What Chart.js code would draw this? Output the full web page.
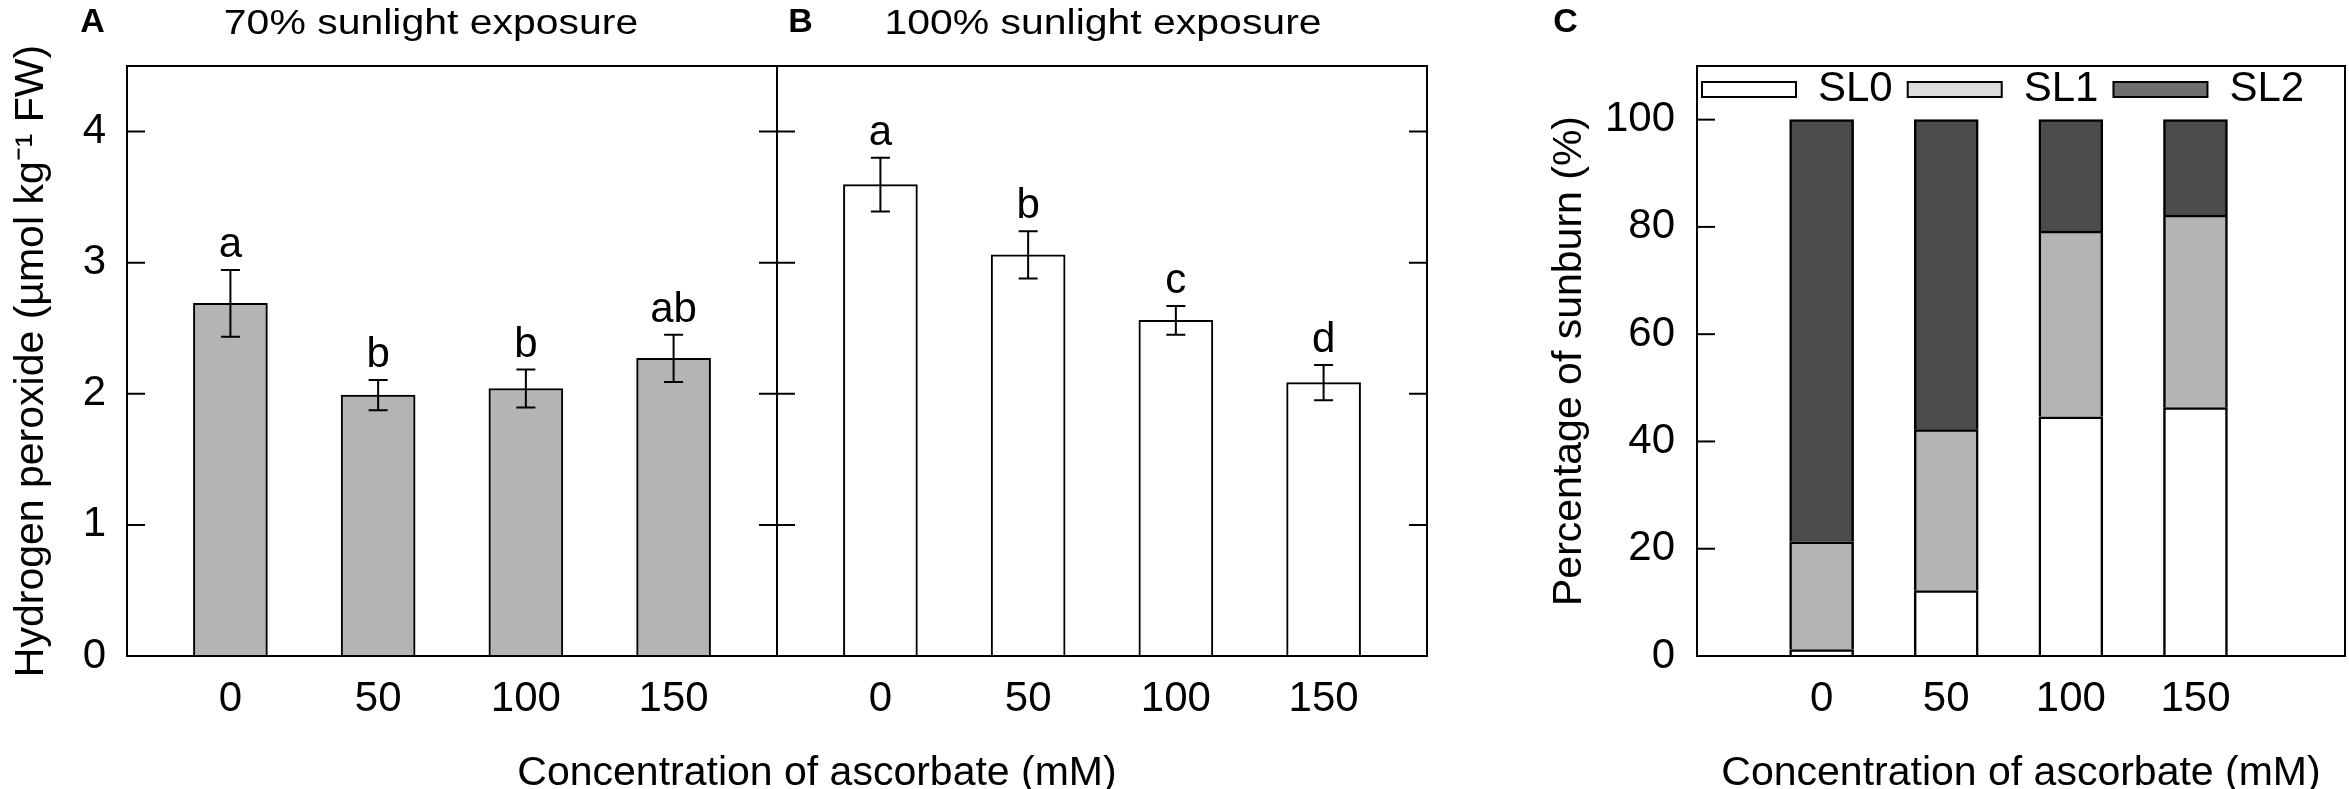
<!DOCTYPE html>
<html>
<head>
<meta charset="utf-8">
<script src="https://cdn.jsdelivr.net/npm/chart.js@4.4.1/dist/chart.umd.min.js"></script>
<style>
  html, body { margin: 0; padding: 0; background: #fff; }
  #page { position: relative; width: 2349px; height: 789px; overflow: hidden;
          font-family: "Liberation Sans", Arial, sans-serif; color: #000; }
  canvas { position: absolute; left: 0; top: 0; }
  .lbl { position: absolute; white-space: nowrap; line-height: 1; transform: translate(-50%, -50%); }
  .panel { font-weight: bold; font-size: 34px; }
  .head { font-size: 35px; transform: translate(-50%, -50%) scaleX(1.17); }
  .xt { font-size: 41px; }
</style>
</head>
<body>
<div id="page">
  <canvas id="chartA" width="2349" height="789"></canvas>
  <canvas id="chartB" width="2349" height="789"></canvas>
  <canvas id="chartC" width="2349" height="789"></canvas>

  <div class="lbl panel" style="left:92.5px;top:20px">A</div>
  <div class="lbl panel" style="left:800.5px;top:20px">B</div>
  <div class="lbl panel" style="left:1565.5px;top:20px">C</div>
  <div class="lbl head" style="left:431px;top:21px">70% sunlight exposure</div>
  <div class="lbl head" style="left:1103px;top:21px">100% sunlight exposure</div>
  <div class="lbl xt" style="left:817px;top:771px">Concentration of ascorbate (mM)</div>
  <div class="lbl xt" style="left:2021px;top:771px">Concentration of ascorbate (mM)</div>
</div>
<script>
// ascorbate concentrations (mM)
const categories = ['0', '50', '100', '150'];

// H2O2 content, 70% sunlight (panel A)
const h2o2Shade = [2.69, 1.99, 2.04, 2.27];
const h2o2ShadeErr = [0.255, 0.115, 0.145, 0.18];
const lettersShade = ['a', 'b', 'b', 'ab'];

// H2O2 content, 100% sunlight (panel B)
const h2o2Full = [3.595, 3.06, 2.56, 2.085];
const h2o2FullErr = [0.205, 0.18, 0.11, 0.135];
const lettersFull = ['a', 'b', 'c', 'd'];

// sunburn levels, % of fruit (panel C)
const sl0 = [1.2, 12.2, 44.6, 46.3];
const sl1 = [20.1, 30.0, 34.6, 35.9];
const sl2 = [78.7, 57.8, 20.8, 17.8];

const yTicksH2O2 = [0, 1, 2, 3, 4];
const yTicksPct = [0, 20, 40, 60, 80, 100];

const FONT = '"Liberation Sans", Arial, sans-serif';
Chart.defaults.font.family = FONT;
Chart.defaults.color = '#000';

const PAGE_W = 2349, PAGE_H = 789;
const AREA_TOP = 66, AREA_BOTTOM = 656;

function points(vals) {
    return vals.map((v, i) => ({ x: i, y: v }));
}

function xScale(min, max, stacked) {
    return {
        type: 'linear', min: min, max: max, offset: false, stacked: stacked,
        grid: { display: false, drawTicks: false },
        border: { display: false },
        ticks: {
            font: { size: 42 }, padding: 18, maxRotation: 0, autoSkip: false,
            callback: v => categories[v] ?? ''
        },
        afterBuildTicks: s => { s.ticks = categories.map((c, i) => ({ value: i })); },
        afterFit: s => { s.height = PAGE_H - AREA_BOTTOM; }
    };
}

function yScale(max, tickVals, width, opts) {
    return {
        min: 0, max: max, stacked: opts.stacked || false,
        grid: { display: false, drawTicks: false },
        border: { display: false },
        ticks: { display: opts.labels, font: { size: 42 }, padding: opts.pad || 0 },
        title: {
            display: !!opts.title, text: opts.title || '',
            font: { size: 41 }, color: '#000', padding: { top: opts.titlePad || 0, bottom: 0 }
        },
        afterBuildTicks: s => { s.ticks = tickVals.map(v => ({ value: v })); },
        afterFit: s => { s.width = width; }
    };
}

// frame, inward tick marks, error bars, letters and legend
function decor(cfg) {
    return {
        id: 'decor',
        afterDatasetsDraw(chart) {
            const { ctx, chartArea: a, scales: { x, y } } = chart;
            ctx.save();
            ctx.strokeStyle = '#000';
            ctx.fillStyle = '#000';
            ctx.lineWidth = 2;

            if (cfg.values) {
                ctx.font = '42px ' + FONT;
                ctx.textAlign = 'center';
                ctx.textBaseline = 'alphabetic';
                cfg.values.forEach((v, i) => {
                    const px = x.getPixelForValue(i);
                    const top = y.getPixelForValue(v + cfg.errors[i]);
                    const bot = y.getPixelForValue(v - cfg.errors[i]);
                    ctx.beginPath();
                    ctx.moveTo(px, top); ctx.lineTo(px, bot);
                    ctx.moveTo(px - 9.5, top); ctx.lineTo(px + 9.5, top);
                    ctx.moveTo(px - 9.5, bot); ctx.lineTo(px + 9.5, bot);
                    ctx.stroke();
                    ctx.fillText(cfg.letters[i], px, top - 13);
                });
            }

            cfg.ticks.forEach(t => {
                const py = y.getPixelForValue(t);
                ctx.beginPath();
                if (cfg.leftTicks) { ctx.moveTo(a.left, py); ctx.lineTo(a.left + 18, py); }
                if (cfg.rightTicks) { ctx.moveTo(a.right, py); ctx.lineTo(a.right - 18, py); }
                ctx.stroke();
            });

            ctx.strokeRect(a.left, a.top, a.right - a.left, a.bottom - a.top);

            if (cfg.legendFills) {
                let lx = a.left + 5;
                const by = a.top + 16;
                ctx.font = '42px ' + FONT;
                ctx.textAlign = 'left';
                ctx.textBaseline = 'middle';
                chart.data.datasets.forEach((ds, i) => {
                    ctx.fillStyle = cfg.legendFills[i];
                    ctx.fillRect(lx, by, 94, 15);
                    ctx.strokeRect(lx, by, 94, 15);
                    ctx.fillStyle = '#000';
                    ctx.fillText(ds.label, lx + 116, by + 7.5);
                    lx += 116 + ctx.measureText(ds.label).width + 15;
                });
            }
            ctx.restore();
        }
    };
}

const baseOpts = {
    responsive: false,
    animation: false,
    events: [],
    plugins: { legend: { display: false }, tooltip: { enabled: false } }
};

new Chart(document.getElementById('chartA'), {
    type: 'bar',
    data: {
        datasets: [{
            label: '70% sunlight exposure',
            data: points(h2o2Shade),
            backgroundColor: '#b4b4b4',
            borderColor: '#000',
            borderWidth: 2,
            barThickness: 74
        }]
    },
    options: Object.assign({}, baseOpts, {
        layout: { padding: { left: 0, top: AREA_TOP, right: PAGE_W - 777, bottom: 0 } },
        scales: {
            x: xScale(-0.7, 3.7, false),
            y: yScale(4.5, yTicksH2O2, 127, {
                labels: true, pad: 21,
                title: 'Hydrogen peroxide (µmol kg⁻¹ FW)', titlePad: 7
            })
        }
    }),
    plugins: [decor({
        values: h2o2Shade, errors: h2o2ShadeErr, letters: lettersShade,
        ticks: yTicksH2O2, leftTicks: true, rightTicks: true
    })]
});

new Chart(document.getElementById('chartB'), {
    type: 'bar',
    data: {
        datasets: [{
            label: '100% sunlight exposure',
            data: points(h2o2Full),
            backgroundColor: '#ffffff',
            borderColor: '#000',
            borderWidth: 2,
            barThickness: 74
        }]
    },
    options: Object.assign({}, baseOpts, {
        layout: { padding: { left: 777, top: AREA_TOP, right: PAGE_W - 1427, bottom: 0 } },
        scales: {
            x: xScale(-0.7, 3.7, false),
            y: yScale(4.5, yTicksH2O2, 0, { labels: false })
        }
    }),
    plugins: [decor({
        values: h2o2Full, errors: h2o2FullErr, letters: lettersFull,
        ticks: yTicksH2O2, leftTicks: true, rightTicks: true
    })]
});

new Chart(document.getElementById('chartC'), {
    type: 'bar',
    data: {
        datasets: [
            { label: 'SL0', data: points(sl0), backgroundColor: '#ffffff' },
            { label: 'SL1', data: points(sl1), backgroundColor: '#b4b4b4' },
            { label: 'SL2', data: points(sl2), backgroundColor: '#4b4b4b' }
        ].map(ds => Object.assign(ds, { borderColor: '#000', borderWidth: 2.5, barThickness: 64 }))
    },
    options: Object.assign({}, baseOpts, {
        layout: { padding: { left: 1540, top: AREA_TOP, right: PAGE_W - 2345, bottom: 0 } },
        scales: {
            x: xScale(-1, 4.2, true),
            y: yScale(110, yTicksPct, 157, {
                labels: true, pad: 22, stacked: true,
                title: 'Percentage of sunburn (%)', titlePad: 5
            })
        }
    }),
    plugins: [decor({
        ticks: yTicksPct, leftTicks: true, rightTicks: false,
        legendFills: ['#ffffff', '#dcdcdc', '#6e6e6e']
    })]
});
</script>
</body>
</html>
